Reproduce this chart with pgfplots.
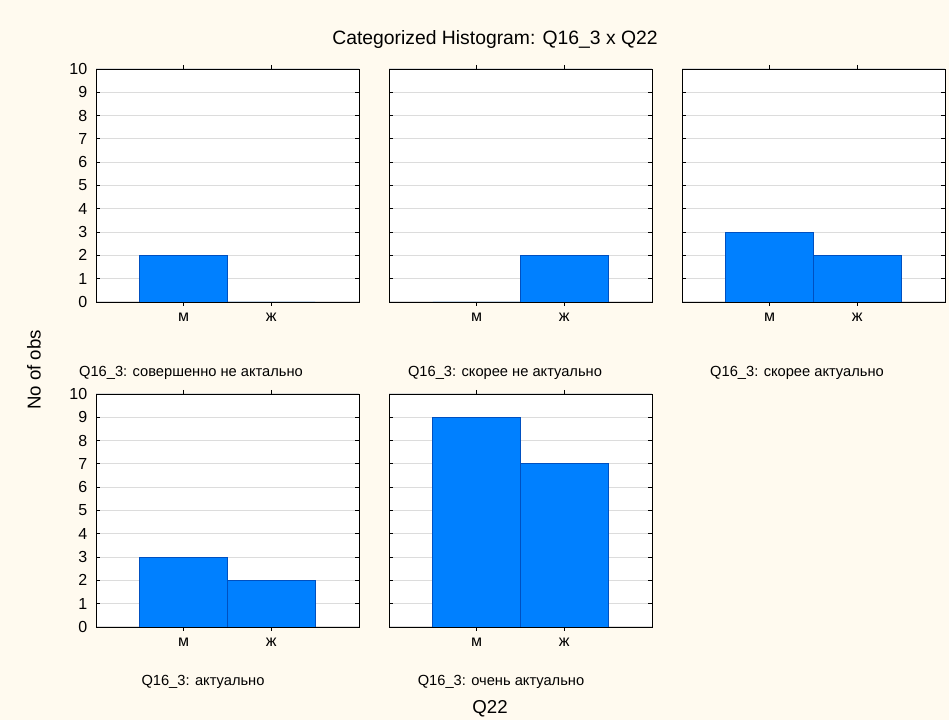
\documentclass[border=0pt]{standalone}
\usepackage{pgfplots}
\pgfplotsset{compat=1.18}
\usepackage{fontspec}
\setmainfont{Liberation Sans}
\definecolor{bg}{HTML}{FFFAEF}
\definecolor{barfill}{HTML}{0080FF}
\definecolor{baredge}{HTML}{0050C0}
\definecolor{gridc}{HTML}{DCDCDC}
\pgfplotsset{panel/.style={
  width=197.25pt, height=174.75pt, scale only axis,
  xmin=0, xmax=3, ymin=0, ymax=10,
  xtick={1,2}, xticklabels={м,ж},
  ytick={0,1,...,10},
  tick align=inside, major tick length=3pt,
  ymajorgrids, grid style={gridc, line width=0.8pt},
  axis line style={black, line width=0.7pt},
  tick style={black, line width=0.6pt},
  xticklabel style={font=\fontsize{12}{13}\selectfont, yshift=-2pt},
  yticklabel style={font=\fontsize{12}{13}\selectfont, xshift=-3pt},
  /pgf/number format/assume math mode=true,
  axis background/.style={fill=white},
  ybar, bar width=1, bar shift=0pt,
  anchor=south west,
}, barst/.style={fill=barfill, draw=baredge, line width=0.7pt}}
\begin{document}
\begin{tikzpicture}
\fill[bg] (0,0) rectangle (711.75pt,540pt);
\useasboundingbox (0,0) rectangle (711.75pt,540pt);
% row 1
\begin{axis}[panel, at={(72pt,313.5pt)}]
\addplot[barst] coordinates {(1,2) (2,0)};
\end{axis}
\begin{axis}[panel, at={(291.75pt,313.5pt)}, yticklabels={}]
\addplot[barst] coordinates {(1,0) (2,2)};
\end{axis}
\begin{axis}[panel, at={(511.5pt,313.5pt)}, yticklabels={}]
\addplot[barst] coordinates {(1,3) (2,2)};
\end{axis}
% row 2
\begin{axis}[panel, at={(72pt,69.75pt)}]
\addplot[barst] coordinates {(1,3) (2,2)};
\end{axis}
\begin{axis}[panel, at={(291.75pt,69.75pt)}, yticklabels={}]
\addplot[barst] coordinates {(1,9) (2,7)};
\end{axis}
% texts
\node[font=\fontsize{14.5}{16}\selectfont] at (371.25pt,510pt) {Categorized Histogram: Q16\_3 x Q22};
\begin{scope}[every node/.style={font=\fontsize{11}{13}\selectfont}]
\node at (143.25pt,260.25pt) {Q16\_3: совершенно не актально};
\node at (378.75pt,260.25pt) {Q16\_3: скорее не актуально};
\node at (597.75pt,260.25pt) {Q16\_3: скорее актуально};
\node at (152.25pt,28.5pt) {Q16\_3: актуально};
\node at (375.75pt,28.5pt) {Q16\_3: очень актуально};
\end{scope}
\node[font=\fontsize{14}{16}\selectfont] at (367.5pt,8.25pt) {Q22};
\node[font=\fontsize{14}{16}\selectfont, rotate=90] at (25.5pt,262.5pt) {No of obs};
\end{tikzpicture}
\end{document}
